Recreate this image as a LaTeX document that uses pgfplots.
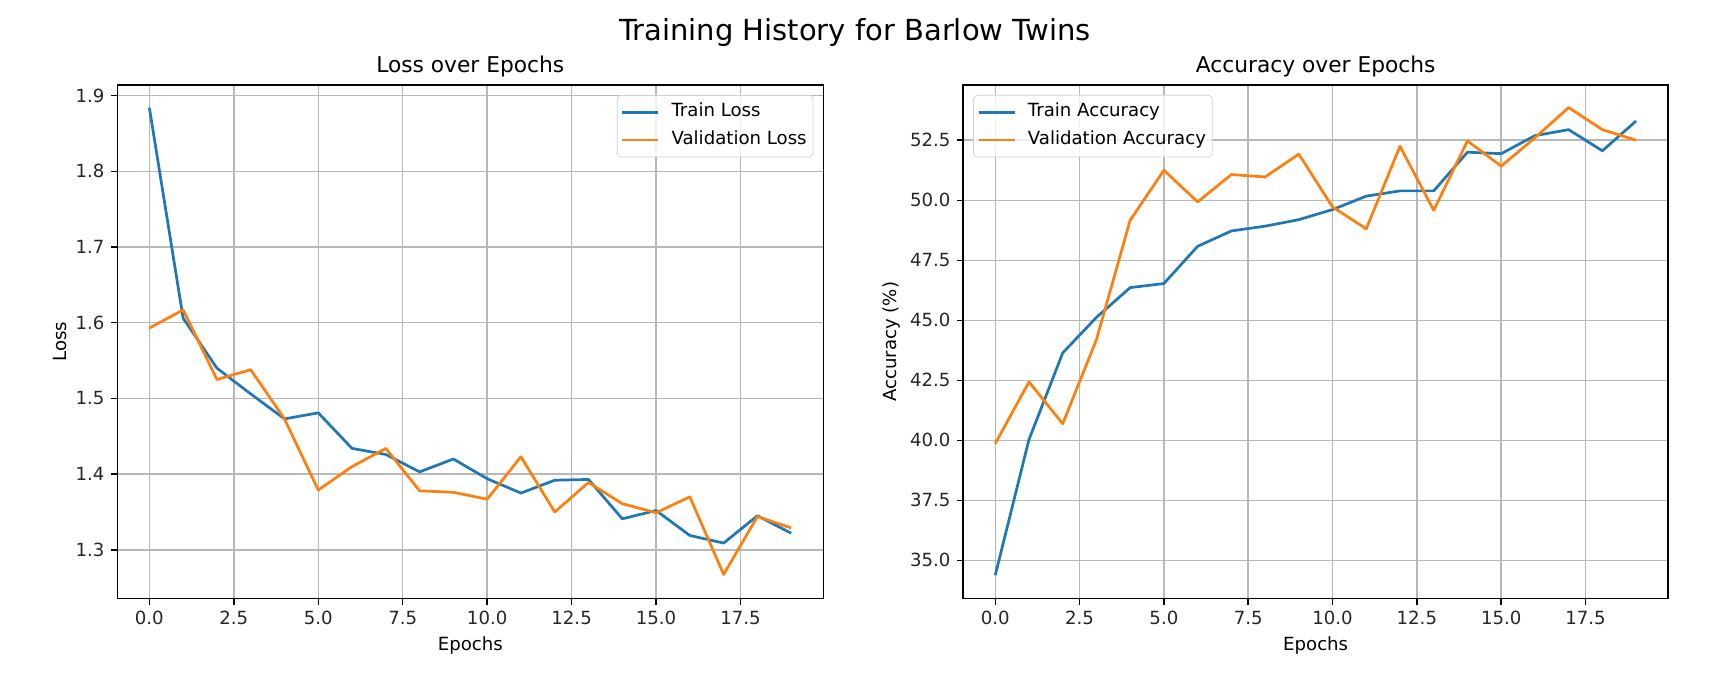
\documentclass[border=0pt]{standalone}
\usepackage{fontspec}
\setmainfont{DejaVu Sans}
\usepackage{pgfplots}
\usepackage{pgfplotstable}
\pgfplotsset{compat=1.18}
\definecolor{tabblue}{HTML}{1F77B4}
\definecolor{taborange}{HTML}{FF7F0E}
\definecolor{gridgray}{HTML}{B8B8B8}

\pgfplotstableread{
ep trainloss valloss trainacc valacc
0  1.884 1.593 34.38 39.86
1  1.606 1.617 40.03 42.43
2  1.540 1.525 43.64 40.69
3  1.506 1.538 45.12 44.19
4  1.473 1.473 46.36 49.17
5  1.481 1.379 46.53 51.25
6  1.434 1.410 48.08 49.93
7  1.426 1.434 48.72 51.07
8  1.403 1.378 48.92 50.97
9  1.420 1.376 49.19 51.92
10 1.394 1.367 49.61 49.72
11 1.375 1.423 50.17 48.81
12 1.392 1.350 50.39 52.25
13 1.393 1.389 50.39 49.58
14 1.341 1.361 52.00 52.47
15 1.352 1.349 51.94 51.42
16 1.319 1.370 52.69 52.60
17 1.309 1.2675 52.94 53.86
18 1.345 1.344 52.06 52.94
19 1.322 1.329 53.30 52.50
}\hist

\pgfplotsset{
  mystyle/.style={
    scale only axis, width=389.5pt, height=283.4pt, anchor=south west,
    xmin=-0.95, xmax=19.95,
    xtick={0,2.5,5,7.5,10,12.5,15,17.5},
    grid=major, grid style={gridgray, line width=0.8pt},
    axis line style={line width=0.8pt},
    tick align=outside, major tick length=3.5pt,
    tick style={black, line width=0.8pt},
    tick pos=left,
    /pgf/number format/assume math mode=true,
    xticklabel style={/pgf/number format/fixed, /pgf/number format/fixed zerofill, /pgf/number format/precision=1},
    yticklabel style={/pgf/number format/fixed, /pgf/number format/fixed zerofill, /pgf/number format/precision=1},
    scaled ticks=false,
    ticklabel style={font=\normalsize, text=black!85},
    label style={font=\normalsize},
    title style={font=\large, at={(axis description cs:0.5,1)}, anchor=base, yshift=1pt},
    xlabel style={at={(axis description cs:0.5,0)}, anchor=base, yshift=-28.5pt},
    legend style={font=\normalsize, draw=black!18, rounded corners=2pt, fill=white, fill opacity=0.8, text opacity=1,
      inner xsep=2pt, inner ysep=2.8pt, row sep=2.4pt, column sep=5pt,
      nodes={inner sep=1.5pt, text height=7.6pt, text depth=2.4pt}},
    legend cell align=left,
    legend image code/.code={\draw[#1] (0pt,0pt) -- (20pt,0pt);},
    every axis plot/.append style={line width=1.5pt, line join=round},
  }
}

\begin{document}
\begin{tikzpicture}
\useasboundingbox (0,0) rectangle (943.4pt,372.9pt);
\node[anchor=base, font=\fontsize{16}{19}\selectfont] at (471.7pt,350.3pt) {Training History for Barlow Twins};

\begin{axis}[mystyle, at={(64.7pt,42.6pt)},
  ymin=1.2355, ymax=1.914,
  ytick={1.3,1.4,1.5,1.6,1.7,1.8,1.9},
  title={Loss over Epochs}, xlabel={Epochs}, ylabel={Loss},
  ylabel style={at={(axis description cs:-0.0811,0.5)}, anchor=center},
  legend style={at={(axis description cs:1,1)}, anchor=north east, xshift=-5.5pt, yshift=-5.5pt}]
\addplot[tabblue] table[x=ep, y=trainloss] {\hist};
\addlegendentry{Train Loss}
\addplot[taborange] table[x=ep, y=valloss] {\hist};
\addlegendentry{Validation Loss}
\end{axis}

\begin{axis}[mystyle, at={(531.4pt,42.6pt)}, width=388.9pt,
  ymin=33.4, ymax=54.8,
  ytick={35,37.5,40,42.5,45,47.5,50,52.5},
  title={Accuracy over Epochs}, xlabel={Epochs}, ylabel={Accuracy (\%)},
  ylabel style={at={(axis description cs:-0.1018,0.5)}, anchor=center},
  legend style={at={(axis description cs:0,1)}, anchor=north west, xshift=5.5pt, yshift=-5.5pt}]
\addplot[tabblue] table[x=ep, y=trainacc] {\hist};
\addlegendentry{Train Accuracy}
\addplot[taborange] table[x=ep, y=valacc] {\hist};
\addlegendentry{Validation Accuracy}
\end{axis}
\end{tikzpicture}
\end{document}
